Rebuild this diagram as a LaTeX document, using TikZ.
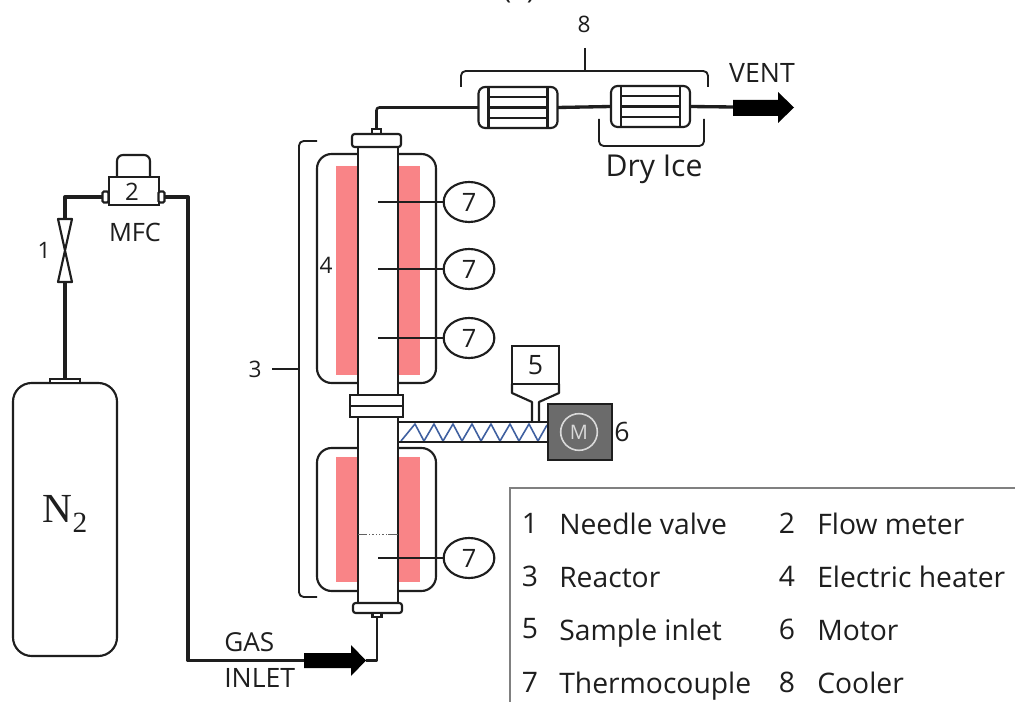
\documentclass[tikz,border=0pt]{standalone}
\usepackage{fontspec}
\setmainfont{Open Sans}
\newfontfamily\nserif{Liberation Serif}
\usetikzlibrary{shapes.geometric}
\definecolor{heatred}{HTML}{FF9496}
\definecolor{heatline}{HTML}{F98487}
\definecolor{screwblue}{HTML}{3F60A0}
\definecolor{motorgray}{HTML}{6B6B6B}
\definecolor{ink}{HTML}{1E1E1E}
\newcommand{\PX}{0.75pt}
\tikzset{
  x=0.75pt,y=-0.75pt,
  pipe/.style={line width=2.5pt,draw=ink,line join=round},
  thin pipe/.style={line width=1.9pt,draw=ink,line join=round},
  outline/.style={line width=1.6pt,draw=ink},
  part/.style={outline,fill=white,inner sep=0pt,outer sep=0pt},
  wire/.style={line width=1.2pt,draw=ink},
  bracketline/.style={line width=1.4pt,draw=ink,rounded corners=3.5pt},
  lbl/.style={inner sep=0pt,text=ink,font=\fontsize{21.2}{25}\selectfont},
  midlbl/.style={inner sep=0pt,text=ink,font=\fontsize{20}{24}\selectfont},
  smlbl/.style={inner sep=0pt,text=ink,font=\fontsize{17}{20}\selectfont},
  tcouple/.style={ellipse,part,minimum width=38pt,minimum height=30pt,font=\fontsize{19}{22}\selectfont,text=ink},
}
\newcommand{\heater}[4]{%
  \fill[heatred] (#1,#3) rectangle (#2,#4);
  \foreach \xx in {#1,...,#2}{\draw[heatline,line width=0.3pt] (\xx+0.5,#3) -- (\xx+0.5,#4);}
}
\begin{document}
\begin{tikzpicture}
\useasboundingbox (0,0) rectangle (1015,702);
\clip (0,0) rectangle (1015,702);
\fill[white] (0,0) rectangle (1015,702);
\node[lbl] (fig) at (519,-9) {(a)};

% ---------- heaters
\draw[outline,rounded corners=11pt] (317,154) rectangle (436,383);
\draw[outline,rounded corners=11pt] (317,448) rectangle (436,591);
\heater{336}{358}{166}{375}
\heater{398}{419}{166}{375}
\heater{336}{358}{457}{582}
\heater{398}{419}{457}{582}

% ---------- reactor
\node[part,minimum width=40*\PX,minimum height=470*\PX] (tube) at (378,372) {};
\draw[ink!70,line width=0.6pt] (358,534) -- (398,534);
\draw[white,line width=0.7pt,dash pattern=on 1.5pt off 1pt] (367,534) -- (388,534);
\node[part,minimum width=9*\PX,minimum height=5*\PX,fill=white] (topnip) at (376.5,131.5) {};
\node[part,rounded corners=2pt,minimum width=49*\PX,minimum height=13*\PX] (topfl) at (376.5,140.5) {};
\node[part,minimum width=53*\PX,minimum height=22*\PX] (coupling) at (376.5,406) {};
\draw[outline] (coupling.west) -- (coupling.east);
\node[part,rounded corners=2pt,minimum width=49*\PX,minimum height=10*\PX] (botfl) at (377.5,608) {};
\node[part,minimum width=9*\PX,minimum height=4*\PX] (botnip) at (377,615) {};

% ---------- thermocouples
\foreach \nm/\yy in {a/202,b/269,c/338,d/558}{
  \node[tcouple] (tc\nm) at (469,\yy) {7};
  \coordinate (probe\nm) at (378,\yy);
  \draw[wire] (probe\nm) -- (tc\nm);
}

% ---------- screw feeder
\node[part,minimum width=64*\PX,minimum height=56*\PX,fill=motorgray] (motor) at (580,432) {};
\node[part,fill=white,minimum width=150*\PX,minimum height=20*\PX] (screw) at (473,432) {};
\draw[screwblue,line width=1.2pt,line join=round] (401,441) -- (415,424) -- (424,441) -- (434,424) -- (443,441) -- (453,424) -- (462,441) -- (472,424) -- (481,441) -- (491,424) -- (500,441) -- (510,424) -- (519,441) -- (529,424) -- (538,441) -- (547,425);
\draw[outline] (screw.north west) -- (screw.north east) (screw.south west) -- (screw.south east);
\draw[outline,fill=motorgray] (motor.south west) rectangle (motor.north east);
\node[circle,draw=white!85!black,line width=1.2pt,inner sep=0pt,text=white!85!black,font=\fontsize{15}{18}\selectfont,minimum size=27.5pt] (mcirc) at (579,432) {M};
\node[midlbl] (six) at (622,432) {6};

% ---------- sample inlet
\node[part,minimum width=47*\PX,minimum height=38*\PX] (hopper) at (535.5,365) {};
\draw[outline,line join=round] (hopper.south west) -- (512,393) -- (532,402) -- (532,422) (hopper.south east) -- (559,393) -- (539,402) -- (539,422);
\node[midlbl] (five) at (535.5,365) {5};

% ---------- vent line and coolers
\foreach \nm/\cx/\cy in {one/518/107.5,two/650.5/106.5}{
  \node[part,rounded corners=5pt,minimum width=79*\PX,minimum height=41*\PX] (cool\nm) at (\cx,\cy) {};
  \draw[outline] ([xshift=10*\PX]cool\nm.north west) -- ([xshift=10*\PX]cool\nm.south west);
  \draw[outline] ([xshift=-10*\PX]cool\nm.north east) -- ([xshift=-10*\PX]cool\nm.south east);
  \draw[outline] (\cx-30,\cy-10.5) -- (\cx+30,\cy-10.5) (\cx-30,\cy) -- (\cx+30,\cy) (\cx-30,\cy+10.5) -- (\cx+30,\cy+10.5);
}
\coordinate (ventarrow) at (733,107);
\fill[black] (733,100) -- (778,100) -- (778,92) -- (794,107.5) -- (778,123) -- (778,116) -- (733,116) -- cycle;
\draw[thin pipe,rounded corners=2pt] (topnip.north) |- (coolone.west);
\draw[pipe] (coolone.east) -- (cooltwo.west);
\draw[pipe] (cooltwo.east) -- (ventarrow);
\node[lbl,font=\fontsize{20}{24}\selectfont] (vent) at (762,73) {VENT};
\node[smlbl] (eight) at (584,24) {8};
\coordinate (brTL) at (461,87); \coordinate (brTR) at (708,87);
\coordinate (brTop) at (585,48);
\draw[bracketline] (brTL) -- (461,71) -- (708,71) -- (brTR);
\draw[bracketline,rounded corners=0pt] (brTop) -- (585,71);
\coordinate (iceL) at (599,119); \coordinate (iceR) at (704,119);
\draw[bracketline] (iceL) -- (599,146) -- (704,146) -- (iceR);
\node[lbl,font=\fontsize{22.6}{26}\selectfont] (ice) at (654,169) {Dry Ice};

% ---------- reactor bracket
\coordinate (b3T) at (317,141); \coordinate (b3B) at (317,597); \coordinate (b3M) at (272,369);
\draw[bracketline] (b3T) -- (299,141) -- (299,597) -- (b3B);
\draw[bracketline,rounded corners=0pt] (b3M) -- (299,369);
\node[smlbl] (three) at (255,369) {3};
\node[smlbl] (four) at (326,265) {4};

% ---------- cylinder, valve, MFC
\node[part,rounded corners=14pt,minimum width=104*\PX,minimum height=273*\PX] (cyl) at (65,519.5) {};
\node[part,minimum width=30*\PX,minimum height=4*\PX] (cap) at (65,381) {};
\node[text=ink,inner sep=0pt,font=\nserif\fontsize{31}{36}\selectfont] (n2) at (65,514) {N\raisebox{-0.26em}{\fontsize{22}{26}\selectfont 2}};
\coordinate (valveB) at (65,282); \coordinate (valveT) at (65,219);
\draw[outline,line join=round] (valveT) -- (72,219) -- (58,282) -- (72,282) -- (58,219) -- cycle;
\node[smlbl] (one) at (44,250) {1};
\draw[outline,rounded corners=4.5pt] (117,178) -- (117,155) -- (150,155) -- (150,178);
\node[part,minimum width=50*\PX,minimum height=28*\PX] (mfc) at (134,191) {};
\node[smlbl,font=\fontsize{18}{21}\selectfont] (two) at (132,192) {2};
\node[part,rounded corners=1pt,minimum width=6*\PX,minimum height=11*\PX] (mfcL) at (105.5,197) {};
\node[part,rounded corners=1pt,minimum width=6*\PX,minimum height=11*\PX] (mfcR) at (161.5,197) {};
\node[midlbl,font=\fontsize{19}{22}\selectfont] (mfct) at (135,232) {MFC};
\draw[pipe] (cap.north) -- (valveB);
\draw[pipe] (valveT) |- (mfcL.west);

% ---------- gas inlet
\coordinate (gasarrow) at (304,660.5);
\fill[black] (304,653) -- (351,653) -- (351,645) -- (366,660.5) -- (351,676) -- (351,668) -- (304,668) -- cycle;
\draw[pipe] (mfcR.east) -- (188,197) -- (188,660.5) -- (gasarrow);
\draw[thin pipe] (botnip.south) |- (366,660.5);
\node[lbl,font=\fontsize{19.6}{24}\selectfont,anchor=west] (gas) at (224,642) {GAS};
\node[lbl,font=\fontsize{20}{24}\selectfont,anchor=west] (inlet) at (224,678) {INLET};

% ---------- legend
\coordinate (legBL) at (510,702); \coordinate (legTR) at (1015,488);
\draw[line width=1.1pt,draw=gray] (legBL) -- (510,488) -- (legTR);
\foreach \nm/\cx/\lx/\yy/\num/\txt in {
  l1/530/559/523/1/Needle valve, l2/787/817/523/2/Flow meter,
  l3/530/559/576/3/Reactor, l4/787/817/576/4/Electric heater,
  l5/530/559/629/5/Sample inlet, l6/787/817/629/6/Motor,
  l7/530/559/682/7/Thermocouple, l8/787/817/682/8/Cooler}{
  \node[lbl] (\nm n) at (\cx,\yy) {\num};
  \node[lbl,anchor=base west] (\nm t) at (\lx,\yy+11) {\txt};
}
\end{tikzpicture}
\end{document}
